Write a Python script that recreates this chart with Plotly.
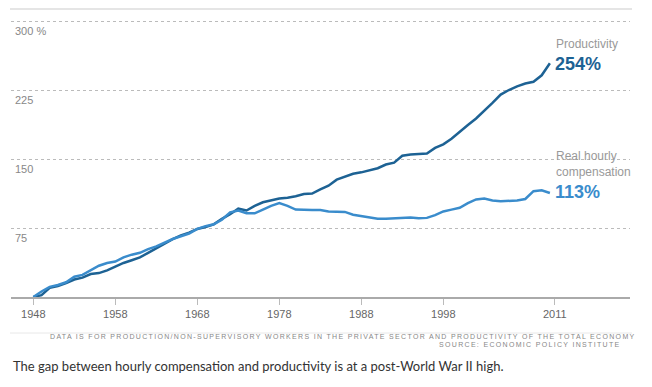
import plotly.graph_objects as go

years = list(range(1948, 2012))
productivity = [0, 2, 10, 12, 15, 19, 21, 25, 26, 29,
                33, 37, 40, 43, 48, 53, 58, 63, 67, 70,
                74, 76, 79, 85, 90, 96, 94, 99, 103, 105,
                107, 108, 109.5, 112, 112.5, 117, 121, 127.5, 131, 134,
                135.5, 137.5, 140, 144, 146, 153.5, 155, 155.5, 156, 162,
                166, 172, 180, 187, 194, 202, 211, 220, 225, 229,
                232, 234, 241, 254]
compensation = [0, 6, 11, 13, 16, 22, 24, 29, 34, 37,
                38.5, 43, 46, 48, 52, 55, 59, 63, 66, 69,
                74, 77, 79, 84, 92, 94, 91, 91, 95, 99,
                102, 99, 95, 94.5, 94.5, 94.5, 93, 92.7, 92.5, 89.5,
                88, 87, 85, 85, 85.5, 86, 86.5, 85.5, 86, 89,
                93, 95, 97, 102, 106, 107, 105, 104, 104.5, 105,
                106.5, 115, 116, 113]

x_tick_vals = [1948, 1958, 1968, 1978, 1988, 1998, 2011.6]
x_tick_text = ["1948", "1958", "1968", "1978", "1988", "1998", "2011"]
y_tick_vals = [75, 150, 225, 300]
y_tick_text = ["75", "150", "225", "300 %"]

DARK = "#1d6294"
LIGHT = "#3a8ccc"
FONT = "Liberation Sans, Arial, sans-serif"

fig = go.Figure()
fig.add_trace(go.Scatter(x=years, y=productivity, mode="lines",
                         line=dict(color=DARK, width=2.5), name="Productivity"))
fig.add_trace(go.Scatter(x=years, y=compensation, mode="lines",
                         line=dict(color=LIGHT, width=2.5), name="Real hourly compensation"))

# the page body adds an 8px offset; figure pixels = page pixels - 8
fig.update_layout(
    width=644, height=379,
    margin=dict(l=3, r=22, t=0, b=90, pad=0, autoexpand=False),
    paper_bgcolor="white", plot_bgcolor="white",
    showlegend=False,
    font=dict(family=FONT, color="#666", size=11),
)
fig.update_xaxes(range=[1945.28, 2020.77], tickvals=x_tick_vals, ticktext=x_tick_text,
                 showgrid=False, zeroline=False, showline=True, linecolor="#aaaaaa", linewidth=1.5,
                 ticks="outside", ticklen=6, tickcolor="#bbbbbb", tickwidth=1, automargin=False,
                 tickfont=dict(size=11, color="#666", family=FONT), fixedrange=True)
fig.update_yaxes(range=[0, 314.13], tickvals=y_tick_vals, showticklabels=False,
                 showgrid=True, gridcolor="#bbbbbb", griddash="dot", gridwidth=1,
                 zeroline=False, showline=False, ticks="", automargin=False, fixedrange=True)

ann = []
# y-axis labels, placed just below each gridline at the left of the plot
for v, t in zip(y_tick_vals, y_tick_text):
    ann.append(dict(xref="paper", yref="y", x=0, y=v, xanchor="left", yanchor="top",
                    xshift=2, yshift=-2, text=t, showarrow=False,
                    font=dict(size=11, color="#888", family=FONT)))

ann.append(dict(xref="x", yref="y", x=years[-1], y=productivity[-1], xanchor="left", yanchor="middle",
                xshift=4, yshift=19, text="Productivity", showarrow=False,
                font=dict(size=12, color="#999", family=FONT)))
ann.append(dict(xref="x", yref="y", x=years[-1], y=productivity[-1], xanchor="left", yanchor="middle",
                xshift=3, yshift=-1, text="<b>%d%%</b>" % round(productivity[-1]), showarrow=False,
                font=dict(size=18, color=DARK, family=FONT)))
ann.append(dict(xref="x", yref="y", x=years[-1], y=compensation[-1], xanchor="left", yanchor="middle",
                xshift=4, yshift=29, text="Real hourly<br>compensation", showarrow=False, align="left",
                font=dict(size=12, color="#999", family=FONT)))
ann.append(dict(xref="x", yref="y", x=years[-1], y=compensation[-1], xanchor="left", yanchor="middle",
                xshift=3, yshift=1, text="<b>%d%%</b>" % round(compensation[-1]), showarrow=False,
                font=dict(size=18, color=LIGHT, family=FONT)))

def py(p):
    return (297 - p) / 289.0

def px(p):
    return (p - 11) / 619.0

ann.append(dict(xref="paper", yref="paper", x=px(638), y=py(337), xanchor="right", yanchor="middle",
                text='<span style="letter-spacing:1.32px">DATA IS FOR PRODUCTION/NON-SUPERVISORY WORKERS IN THE PRIVATE SECTOR AND PRODUCTIVITY OF THE TOTAL ECONOMY</span>',
                showarrow=False, font=dict(size=7, color="#888", family=FONT)))
ann.append(dict(xref="paper", yref="paper", x=px(623), y=py(344), xanchor="right", yanchor="middle",
                text='<span style="letter-spacing:1.32px">SOURCE: ECONOMIC POLICY INSTITUTE</span>',
                showarrow=False, font=dict(size=7, color="#888", family=FONT)))
ann.append(dict(xref="paper", yref="paper", x=px(11), y=py(366), xanchor="left", yanchor="middle",
                text="The gap between hourly compensation and productivity is at a post-World War II high.",
                showarrow=False, font=dict(size=13, color="#333", family="Lato, sans-serif")))
fig.update_layout(annotations=ann)

fig.add_shape(type="line", xref="paper", yref="paper", x0=px(10), x1=px(632), y0=py(9), y1=py(9),
              line=dict(color="#dddddd", width=1.5))
fig.add_shape(type="line", xref="paper", yref="paper", x0=px(10), x1=px(632), y0=py(333), y1=py(333),
              line=dict(color="#e8e8e8", width=1))

fig.write_html("out.html")
